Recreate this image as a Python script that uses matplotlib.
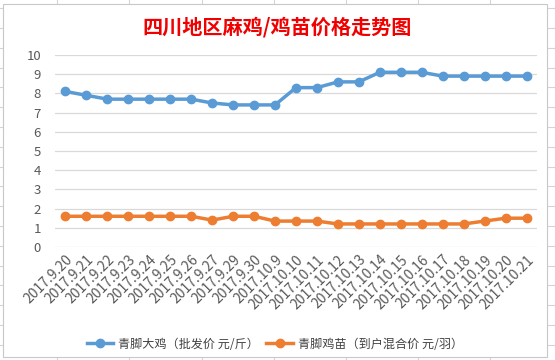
import matplotlib.pyplot as plt
from matplotlib.lines import Line2D
from matplotlib.patches import Rectangle

plt.rcParams['font.family'] = ['Noto Sans CJK SC', 'DejaVu Sans']

dates = ["2017.9.20", "2017.9.21", "2017.9.22", "2017.9.23", "2017.9.24",
         "2017.9.25", "2017.9.26", "2017.9.27", "2017.9.29", "2017.9.30",
         "2017.10.9", "2017.10.10", "2017.10.11", "2017.10.12", "2017.10.13",
         "2017.10.14", "2017.10.15", "2017.10.16", "2017.10.17", "2017.10.18",
         "2017.10.19", "2017.10.20", "2017.10.21"]
chicken = [8.1, 7.9, 7.7, 7.7, 7.7, 7.7, 7.7, 7.5, 7.4, 7.4, 7.4, 8.3, 8.3,
           8.6, 8.6, 9.1, 9.1, 9.1, 8.9, 8.9, 8.9, 8.9, 8.9]
chick = [1.6, 1.6, 1.6, 1.6, 1.6, 1.6, 1.6, 1.4, 1.6, 1.6, 1.35, 1.35, 1.35,
         1.2, 1.2, 1.2, 1.2, 1.2, 1.2, 1.2, 1.35, 1.5, 1.5]
name1 = "青脚大鸡（批发价 元/斤）"
name2 = "青脚鸡苗（到户混合价 元/羽）"
title = "四川地区麻鸡/鸡苗价格走势图"

blue = "#5B9BD5"
orange = "#ED7D31"

fig = plt.figure(figsize=(5.55, 3.6), dpi=100)
W, H = 555, 360

# excel cell grid behind the chart
for x in [57, 129, 202, 274, 346, 418, 490]:
    fig.add_artist(Line2D([x / W, x / W], [0, 1], color="#D4D4D4", lw=0.8, zorder=0))
for k in range(-1, 18):
    y = 28 + 19.8 * k
    fig.add_artist(Line2D([0, 1], [1 - y / H, 1 - y / H], color="#D4D4D4", lw=0.8, zorder=0))

# chart area
fig.add_artist(Rectangle((3 / W, 1 - 357 / H), 544 / W, 353 / H, facecolor="white",
                         edgecolor="#C8C8C8", lw=0.8, transform=fig.transFigure, zorder=1))

ax = fig.add_axes([55 / W, 1 - 247 / H, 482 / W, 192 / H], zorder=2)
ax.set_facecolor("none")
x = range(len(dates))
ax.plot(x, chicken, color=blue, lw=2.5, marker="o", ms=6, label=name1)
ax.plot(x, chick, color=orange, lw=2.5, marker="o", ms=6, label=name2)

ax.set_xlim(-0.5, len(dates) - 0.5)
ax.set_ylim(0, 10)
ax.set_yticks(range(0, 11))
ax.grid(axis="y", color="#D9D9D9", lw=0.9)
ax.set_axisbelow(True)
for s in ax.spines.values():
    s.set_visible(False)
ax.tick_params(length=0, colors="#595959", labelsize=9.5)
ax.tick_params(axis="y", pad=10)
ax.tick_params(axis="x", pad=4)
ax.set_xticks(list(x))
ax.set_xticklabels(dates, rotation=45, ha="right", rotation_mode="anchor", fontsize=10)

fig.text(0.5, 1 - 27 / H, title, color="#F00000", fontsize=14.5, fontweight="semibold",
         ha="center", va="center")

fig.legend(loc="center", bbox_to_anchor=(0.495, 1 - 344 / H), ncol=2, frameon=False,
           fontsize=8.7, handlelength=2.2, columnspacing=0.6, handletextpad=0.4,
           labelcolor="#404040")

fig.savefig("out.png", dpi=100)
